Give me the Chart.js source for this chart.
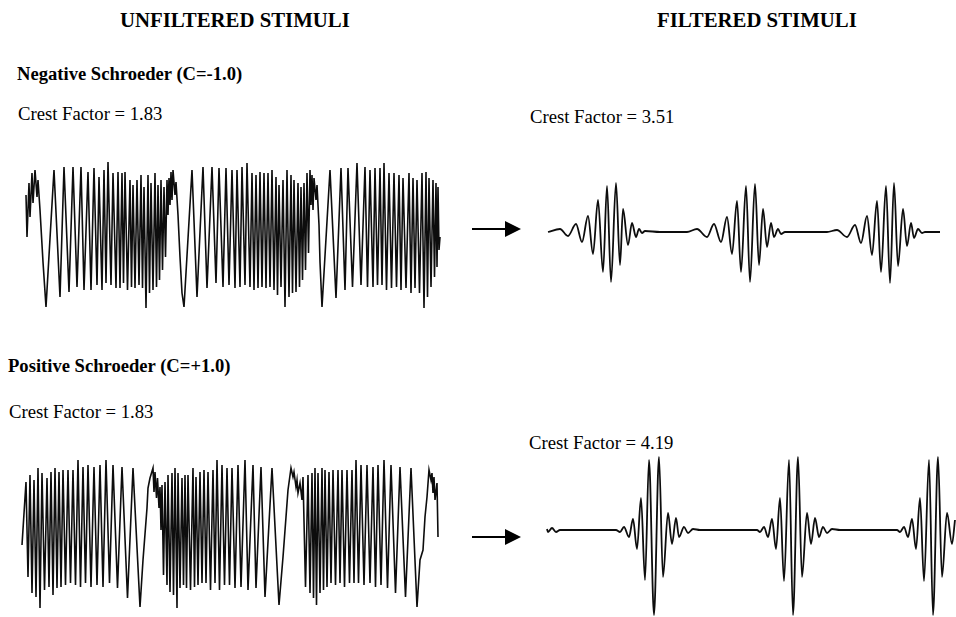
<!DOCTYPE html>
<html>
<head>
<meta charset="utf-8">
<script src="https://cdn.jsdelivr.net/npm/chart.js@4.4.1/dist/chart.umd.min.js"></script>
<style>
  html, body { margin:0; padding:0; background:#fff; }
  #page { position:relative; width:956px; height:617px; overflow:hidden; background:#fff; }
  .t { position:absolute; white-space:nowrap; font-family:"Liberation Serif","Times New Roman",serif; color:#000; line-height:1; }
  .h { font-size:20.8px; font-weight:bold; }
  .s { font-size:18.6px; font-weight:bold; }
  .c { font-size:18.7px; }
  canvas { position:absolute; }
  .arrowLine { position:absolute; height:2px; background:#000; }
  .arrowHead { position:absolute; width:0; height:0; border-top:8px solid transparent; border-bottom:8px solid transparent; border-left:16px solid #000; }
</style>
</head>
<body>
<div id="page">
  <div class="t h" style="left:120px; top:10px;">UNFILTERED STIMULI</div>
  <div class="t h" style="left:657px; top:10px;">FILTERED STIMULI</div>
  <div class="t s" style="left:17px; top:65px;">Negative Schroeder (C=-1.0)</div>
  <div class="t c" style="left:18px; top:105px;">Crest Factor = 1.83</div>
  <div class="t c" style="left:530px; top:108px;">Crest Factor = 3.51</div>
  <div class="t s" style="left:8px; top:357px;">Positive Schroeder (C=+1.0)</div>
  <div class="t c" style="left:9px; top:403px;">Crest Factor = 1.83</div>
  <div class="t c" style="left:529px; top:434px;">Crest Factor = 4.19</div>

  <div class="arrowLine" style="left:472px; top:228px; width:36px;"></div>
  <div class="arrowHead" style="left:505px; top:221px;"></div>
  <div class="arrowLine" style="left:472px; top:536px; width:36px;"></div>
  <div class="arrowHead" style="left:505px; top:529px;"></div>

  <canvas id="negUnf" width="434" height="170" style="left:16px; top:150px;"></canvas>
  <canvas id="negFil" width="410" height="130" style="left:540px; top:170px;"></canvas>
  <canvas id="posUnf" width="436" height="172" style="left:14px; top:445px;"></canvas>
  <canvas id="posFil" width="416" height="172" style="left:540px; top:445px;"></canvas>
</div>
<script>
// Waveform samples: [time (samples), amplitude (arb. units)]
const negativeUnfiltered = [
[0,37],[1,-5],[3,49],[4,15],[6,59],[7,29],[9,62],[11,35],[12,52],[14,22],[17,-30],[20,-75],
[28,62],[34,-65],[38,65],[43,-60],[47,65],[51,-55],[55,65],[58,-58],[62,60],[65,-58],[68,64],[71,-53],[73,55],[76,-58],[78,62],[80,-51],[82,70],[85,-53],[87,59],[90,-56],[92,60],[94,-56],[96,59],[97.5,-51],[99,60],[101.5,-58],[104,52],[105.5,-55],[107,47],[109,-56],[111,52],[113,-53],[115,57],[116.5,-56],[118,45],[120,-76],[122,57],[123.5,-61],[125,49],[127,-58],[129,59],[130.5,-55],[132,47],[133.5,-48],[135,52],[136.5,-38],[138,45],[139.5,-25],[141,52],[142,17],[143,54],[144,27],[145,60],[146,32],[147,62],[149,37],[150,50],[152,17],[154,-25],[156,-61],[158,-75],
[166,62],[171,-65],[177,65],[181,-56],[186,65],[190,-51],[193,64],[197,-55],[200,64],[203,-53],[206,62],[209,-56],[211,62],[214,-55],[216,65],[219,-53],[221,69],[224,-55],[226,59],[228,-58],[230,57],[232,-56],[234,60],[236,-55],[238,59],[240,-56],[242,59],[244,-55],[246,62],[248,-58],[250,55],[251.5,-63],[253,47],[255,-55],[257,52],[259,-75],[261,62],[263,-65],[265,57],[266.5,-61],[268,52],[270,-60],[272,49],[273.5,-55],[275,45],[276.5,-48],[278,49],[279.5,-38],[281,59],[282.5,-21],[284,62],[285,27],[286,57],[287,22],[288,54],[290,32],[291,47],[293,7],[294,-30],[296,-75],
[304,62],[310,-66],[315,64],[319,-58],[322,64],[326.5,-55],[331,69],[335,-53],[339,65],[341.5,-55],[344,62],[347,-55],[349,64],[351.5,-53],[354,64],[356,-53],[358,69],[360.5,-58],[363,59],[365.5,-56],[368,59],[370.5,-55],[373,57],[375,-58],[377,54],[380,-56],[383,59],[385,-61],[387,54],[389,-56],[391,52],[393.5,-61],[396,59],[398,-76],[400,60],[401.5,-65],[403,54],[405,-55],[407,52],[408.5,-45],[410,49],[411,-35],[412,45],[413,-18],[414,-5]
];

const negativeFiltered = [
[0,0],[12,3],[20,-4],[28,8],[34,-10],[40,16],[45,-22],[50,32],[55,-40],[59,46],[63,-50],[68,49],[72,-33],[75,23],[80,-13],[84,9],[88,-5],[91,3],[94,-1],[97,1],[112,0],[139,0],
[149,3],[159,-5],[166,8],[173,-10],[179,15],[184,-22],[189,31],[193,-40],[198,46],[202,-50],[207,48],[211,-33],[215,23],[219,-15],[223,9],[226,-5],[230,3],[233,-2],[237,0],[279,0],
[289,2],[299,-5],[307,7],[313,-11],[319,16],[324,-23],[329,31],[333,-40],[338,46],[342,-51],[346,49],[350,-34],[355,23],[359,-14],[363,9],[366,-6],[370,3],[374,-1],[377,0],[392,0]
];

const positiveUnfiltered = [
[0,-17],[4,46],[6,-49],[8,53],[10,-65],[12,48],[14,-69],[16,60],[18,-80],[20,55],[22.5,-62],[25,50],[27,-59],[29,56],[31,-67],[33,60],[35,-60],[37,56],[39,-59],[41,58],[43.5,-57],[46,58],[48.5,-55],[51,58],[53.5,-57],[56,68],[58.5,-59],[61,61],[63.5,-55],[66,63],[69,-59],[72,61],[75,-57],[78,63],[81,-59],[84,68],[87.5,-55],[91,63],[95.5,-60],[100,61],[105.5,-70],[111,60],[118,-79],
[121,-32],[125,20],[126,40],[128,50],[131,60],[132,36],[133,56],[134.5,30],[135.5,50],[137,20],[138,41],[139,-2],[140,43],[141.5,-47],[143,46],[145,-57],[146,53],[148,-64],[150,55],[151.5,-67],[153,60],[155,-80],[156,55],[158,-60],[160,50],[161.5,-57],[163,53],[164.5,-60],[166,53],[168.5,-62],[171,60],[172.5,-59],[174,51],[176,-57],[178,56],[180,-55],[182,58],[184,-55],[186,56],[188.5,-62],[191,58],[193,-55],[195,68],[197.5,-62],[200,63],[202.5,-57],[205,60],[207.5,-57],[210,60],[213,-60],[216,63],[219,-59],[223,68],[226,-62],[231,63],[234,-60],[239,61],[243,-69],[250,60],[257,-77],
[261,-29],[264,11],[266,38],[269,60],[271,51],[272,56],[274,41],[275,48],[276,35],[278,45],[280,28],[281,51],[283.5,-59],[286,53],[288,-65],[290,55],[291.5,-70],[293,60],[294.5,-77],[296,55],[298,-65],[300,60],[301.5,-62],[303,58],[305,-59],[307,56],[309,-55],[311,58],[313.5,-57],[316,58],[318,-55],[320,58],[322.5,-59],[325,58],[327.5,-55],[330,58],[332,-55],[334,68],[336.5,-55],[339,63],[342,-57],[345,63],[348,-55],[351,61],[353.5,-59],[356,63],[359,-57],[362,68],[365.5,-60],[369,63],[373.5,-65],[378,61],[383.5,-69],[389,60],[395,-79],
[398,-32],[401,-22],[403,11],[405,31],[407,58],[409,48],[410,55],[411,35],[412,51],[413,28],[415,45],[416,-9]
];

const positiveFiltered = [
[0,1],[1,-2],[5,2],[9,-2],[13,0],[69,0],[73,-2],[77,3],[82,-7],[86,11],[90,-19],[94,32],[98,-50],[102,70],[107,-85],[112,73],[116,-47],[121,17],[125,-14],[129,12],[132,-7],[137,3],[141,-3],[146,1],[153,0],
[210,0],[213,-2],[217,3],[221,-7],[225,11],[229,-19],[233,32],[237,-51],[242,70],[246,-85],[251,73],[255,-47],[260,17],[264,-14],[268,12],[272,-7],[276,3],[280,-3],[285,1],[293,0],
[350,0],[353,-2],[357,3],[361,-7],[365,11],[369,-19],[373,32],[377,-51],[382,70],[386,-85],[391,73],[395,-47],[400,17],[405,-14],[408,10]
];

function drawWave(id, samples, xr, yr, smooth, lw) {
  new Chart(document.getElementById(id), {
    type: 'line',
    data: { datasets: [{
      data: samples.map(p => ({ x: p[0], y: p[1] })),
      borderColor: '#0d0d0d',
      borderWidth: lw,
      pointRadius: 0,
      fill: false,
      tension: smooth ? 0.4 : 0,
      cubicInterpolationMode: smooth ? 'monotone' : 'default',
      clip: false
    }]},
    options: {
      responsive: false,
      animation: false,
      events: [],
      layout: { padding: 0 },
      plugins: { legend: { display: false }, tooltip: { enabled: false }, title: { display: false } },
      scales: {
        x: { type: 'linear', display: false, min: xr[0], max: xr[1] },
        y: { type: 'linear', display: false, min: yr[0], max: yr[1] }
      }
    }
  });
}

drawWave('negUnf', negativeUnfiltered, [-10, 424], [-88, 82], false, 1.6);
drawWave('negFil', negativeFiltered, [-8, 402], [-68, 62], true, 1.8);
drawWave('posUnf', positiveUnfiltered, [-8, 428], [-89, 83], false, 1.6);
drawWave('posFil', positiveFiltered, [-7, 409], [-87, 85], true, 1.8);
</script>
</body>
</html>
